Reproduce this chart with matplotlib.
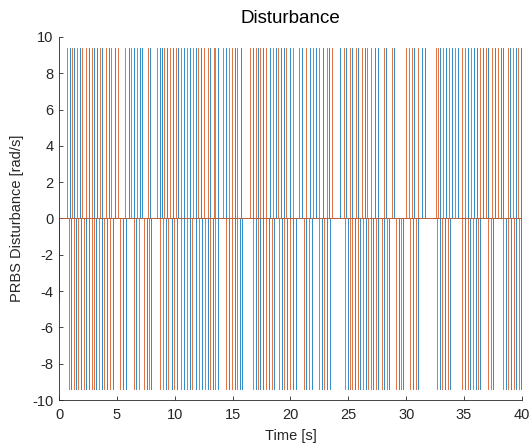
import numpy as np
import matplotlib
matplotlib.use("Agg")
from matplotlib import pyplot as plt

plt.rcParams["font.family"] = ["Liberation Sans", "DejaVu Sans"]
plt.rcParams["axes.unicode_minus"] = False

# spike level of the PRBS pulses [rad/s]
level = 9.4

# spike times [s]
blue_up = [0.92, 1.32, 1.84, 2.59, 3.05, 3.28, 3.74, 4.32, 4.87, 6.02, 6.45, 6.97, 7.2,
           7.83, 8.70, 8.93, 9.33, 9.85, 10.31, 10.77, 11.29, 11.81, 12.27, 13.07,
           13.74, 14.46, 15.2, 15.75, 16.76, 17.22, 17.62, 18.2, 18.72, 19.18, 19.41,
           19.98, 21.02, 21.65, 22.23, 22.8, 23.32, 24.24, 24.82, 25.34, 25.86, 26.41,
           27.3, 27.59, 28.28, 28.97, 30.7, 31.39, 31.62, 32.94, 33.46, 33.92, 34.5,
           35.3, 35.82, 36.11, 36.63, 37.09, 37.67, 38.18, 38.41, 38.99, 39.45, 39.88]
orange_up = [0.69, 1.12, 1.56, 2.02, 2.36, 2.82, 3.51, 4.09, 4.49, 5.1, 5.73, 6.22, 6.74,
             7.66, 8.47, 9.1, 9.62, 10.08, 10.54, 11.06, 11.58, 12.04, 12.5, 12.84, 13.36,
             13.45, 14.17, 14.69, 14.97, 15.38, 16.53, 16.99, 17.39, 17.85, 18.48, 18.95,
             19.64, 20.21, 20.73, 21.36, 21.94, 22.46, 23.15, 23.61, 24.59, 25.11, 25.63,
             26.15, 26.61, 26.92, 28.08, 28.74, 30.01, 30.24, 30.47, 30.98, 32.54, 32.71,
             33.17, 33.69, 34.21, 34.79, 35.07, 35.59, 36.34, 36.86, 37.38, 37.95, 38.76,
             39.22, 39.68]
blue_down = [1.04, 1.44, 1.9, 2.36, 2.59, 3.23, 3.69, 4.15, 4.67, 5.53, 5.76, 6.68, 7.61,
             7.95, 9.22, 9.74, 10.2, 10.77, 11.29, 11.81, 12.33, 12.85, 13.31, 13.73,
             14.68, 15.2, 15.6, 15.78, 16.99, 17.39, 17.62, 18.14, 18.54, 19.23, 19.69,
             20.21, 20.44, 21.36, 21.82, 22.69, 23.15, 23.38, 24.94, 25.57, 26.03, 26.49,
             27.13, 27.59, 28.1, 28.51, 29.37, 29.72, 30.58, 30.98, 32.89, 33.35, 33.81,
             35.07, 35.54, 36.0, 36.4, 37.53, 38.59, 39.05, 39.5, 39.91]
orange_down = [0.84, 1.27, 1.67, 2.13, 2.83, 3.06, 3.46, 3.86, 4.44, 5.3, 6.45, 6.91, 7.38,
               7.78, 8.76, 8.99, 9.45, 9.91, 10.54, 11.06, 11.52, 12.1, 12.62, 13.08, 13.44,
               14.45, 14.91, 15.37, 16.76, 17.22, 17.91, 18.37, 19.0, 19.46, 19.98, 21.13,
               21.59, 22.46, 22.92, 24.7, 25.11, 25.34, 25.8, 26.26, 26.72, 26.92, 27.36,
               27.87, 28.34, 29.14, 29.54, 30.35, 30.81, 32.66, 33.12, 33.58, 34.84, 35.3,
               35.77, 36.22, 37.09, 37.32, 38.36, 38.82, 39.28, 39.74]

# orange trace starts and ends away from zero
orange_start = -4.6
orange_end = 4.7
t_end = 40.0


def pulse_train(up, down, start=0.0, end=0.0):
    events = sorted([(t, level) for t in up] + [(t, -level) for t in down])
    t = [0.0, 0.0]
    y = [start, 0.0]
    for ts, v in events:
        t += [ts, ts, ts]
        y += [0.0, v, 0.0]
    t += [t_end, t_end]
    y += [0.0, end]
    return np.array(t), np.array(y)


tb, yb = pulse_train(blue_up, blue_down)
to, yo = pulse_train(orange_up, orange_down, orange_start, orange_end)

fig = plt.figure(figsize=(5.32, 4.45), dpi=100)
ax = fig.add_axes([0.111, 0.101, 0.870, 0.816])

ax.plot(tb, yb, color="#0072BD", lw=0.7, alpha=0.8)
ax.plot(to, yo, color="#D95319", lw=0.7, alpha=0.8)

ax.set_xlim(0, 40)
ax.set_ylim(-10, 10)
ax.set_xticks(np.arange(0, 41, 5))
ax.set_yticks(np.arange(-10, 11, 2))
ax.tick_params(direction="in", length=3, width=0.6, colors="#262626",
               labelsize=10.5, pad=4)
ax.tick_params(axis="x", pad=6)
for side in ["top", "right"]:
    ax.spines[side].set_visible(False)
for side in ["left", "bottom"]:
    ax.spines[side].set_color("#262626")
    ax.spines[side].set_linewidth(0.6)

ax.set_title("Disturbance", fontsize=13.5, color="black", pad=10)
ax.set_xlabel("Time [s]", fontsize=10.5, color="#262626", labelpad=5)
ax.set_ylabel("PRBS Disturbance [rad/s]", fontsize=10.5, color="#262626", labelpad=6)

fig.savefig("out.png", dpi=100)
